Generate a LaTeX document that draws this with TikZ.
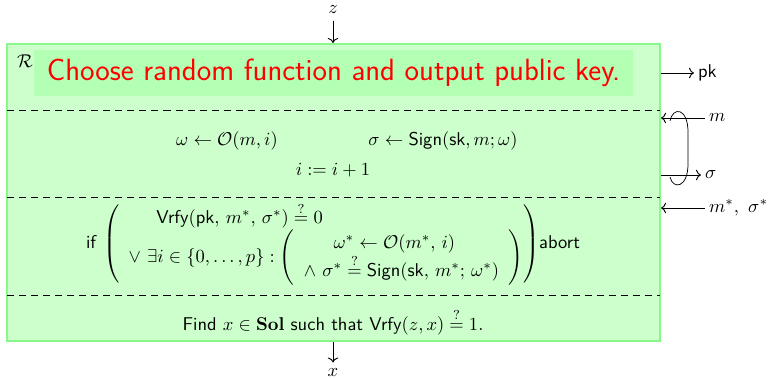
\documentclass[tikz,border=0pt]{standalone}
\usepackage{amsmath,amssymb}
\usepackage{xcolor}
\usetikzlibrary{arrows.meta,positioning}
\definecolor{mint}{HTML}{CCFFCC}
\definecolor{mintdark}{HTML}{B3FFB3}
\definecolor{mintedge}{HTML}{8AF78A}
\newcommand{\algo}[1]{\textsf{#1}}
\newcommand{\qeq}{\stackrel{?}{=}}

\begin{document}
\begin{tikzpicture}[x=0.54pt,y=-0.54pt,
  frame/.style={draw=mintedge,line width=1.1pt,fill=mint,
    minimum width=352.6pt,minimum height=160.4pt,inner sep=0pt},
  title/.style={fill=mintdark,text=red,font=\fontsize{16.6}{20}\sffamily,
    minimum width=323.5pt,minimum height=24.8pt,inner sep=0pt},
  sep/.style={dash pattern=on 3.8pt off 2.7pt,line width=0.5pt},
  flow/.style={->,line width=0.5pt},
  lbl/.style={anchor=west,inner sep=2pt}]
 \useasboundingbox (0,0) rectangle (770,379);
 \node[frame] (frame) at (333.5,192.5) {};
 \node[title] (title) at (333.5,73) {Choose random function and output public key.};
 \node (R) at (25,61) {$\mathcal{R}$};
 \foreach \y in {110,197,295}
   \draw[sep] (7,\y) -- (660,\y);
 % inputs and outputs
 \node (z) at (333,10) {$z$};
 \draw[flow] (z) -- (z |- frame.north);
 \node (x) at (333,373) {$x$};
 \draw[flow] (x |- frame.south) -- (x);
 \node[lbl] (pk) at (694,73) {\algo{pk}};
 \draw[flow] (frame.east |- pk) -- (pk);
 \node[lbl] (m) at (705,118) {$m$};
 \draw[flow] (m) -- (frame.east |- m);
 \node[lbl] (sig) at (701,175) {$\sigma$};
 \draw[flow] (frame.east |- sig) -- (sig);
 \node[lbl] (forge) at (705,208) {$m^*,\ \sigma^*$};
 \draw[flow] (forge) -- (frame.east |- forge);
 \coordinate (lpa) at (670,121);
 \coordinate (lpt) at (688,132);
 \coordinate (lpb) at (688,164);
 \coordinate (lpz) at (670,177);
 \draw (lpa) .. controls (673,106) and (688,108) .. (lpt) -- (lpb)
   .. controls (688,188) and (673,190) .. (lpz);
 % signing queries
 \node (omega) at (227,141) {$\omega \leftarrow \mathcal{O}(m,i)$};
 \node (sign) at (443,141) {$\sigma \leftarrow \algo{Sign}(\algo{sk},m;\omega)$};
 \node (incr) at (333,170) {$i := i+1$};
 % forgery check
 \node (check) at (333,244) {\algo{if} $\left(\begin{array}{l@{}}
     \hspace{1.5em}\algo{Vrfy}(\algo{pk},\,m^*,\,\sigma^*) \qeq 0\\
     \vee\ \exists i\in\{0,\dots,p\} : \left(\begin{array}{l}
       \hspace{1.6em}\omega^*\leftarrow\mathcal{O}(m^*,\,i)\\
       \wedge\ \sigma^*\qeq\algo{Sign}(\algo{sk},\,m^*;\,\omega^*)
     \end{array}\right)
   \end{array}\right)$\algo{abort}};
 % solution
 \node (find) at (333,322) {\algo{Find} $x\in\mathbf{Sol}$ \algo{such that} $\algo{Vrfy}(z,x)\qeq 1$.};
\end{tikzpicture}
\end{document}
